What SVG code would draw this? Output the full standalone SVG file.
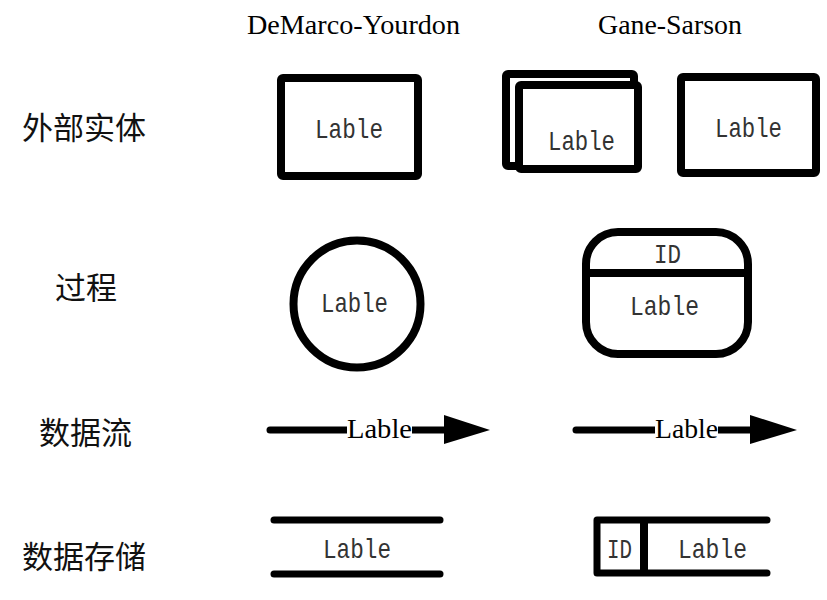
<svg xmlns="http://www.w3.org/2000/svg" width="827" height="600" viewBox="0 0 827 600">
<style>
.title{font-family:"Liberation Serif","Times New Roman",serif;font-size:27px;fill:#000}
.cn{font-family:"Noto Sans CJK SC","Noto Sans CJK JP",sans-serif;font-size:31px;fill:#111}
.mono{font-family:"Liberation Mono","Courier New",monospace;font-size:28px;fill:#333}
.flow{font-family:"Liberation Serif","Times New Roman",serif;font-size:28px;fill:#000}
.sh{fill:#fff;stroke:#000;stroke-width:8;stroke-linejoin:round}
.ln{fill:none;stroke:#000;stroke-width:7;stroke-linecap:round;stroke-linejoin:round}
</style>
<rect width="827" height="600" fill="#fff"/>
<text class="title" x="247" y="34" textLength="213" lengthAdjust="spacingAndGlyphs">DeMarco-Yourdon</text>
<text class="title" x="598" y="34" textLength="144" lengthAdjust="spacingAndGlyphs">Gane-Sarson</text>
<text class="cn" x="22" y="139">外部实体</text>
<text class="cn" x="55" y="299">过程</text>
<text class="cn" x="39" y="444">数据流</text>
<text class="cn" x="22" y="568">数据存储</text>
<g id="dy-entity">
<rect class="sh" x="281" y="78" width="137" height="98" rx="2"/>
<text class="mono" x="315" y="138" textLength="68" lengthAdjust="spacingAndGlyphs">Lable</text>
</g>
<g id="gs-entity-dup">
<rect class="sh" x="506" y="74" width="128" height="92" rx="2"/>
<rect class="sh" x="519" y="85" width="119" height="84" rx="2"/>
<text class="mono" x="548" y="150" textLength="67" lengthAdjust="spacingAndGlyphs">Lable</text>
</g>
<g id="gs-entity">
<rect class="sh" x="681" y="77" width="135" height="96" rx="2"/>
<text class="mono" x="715" y="137" textLength="67" lengthAdjust="spacingAndGlyphs">Lable</text>
</g>
<g id="dy-process">
<circle class="sh" cx="357" cy="304" r="63.5" stroke-width="7"/>
<text class="mono" x="321" y="312" textLength="67" lengthAdjust="spacingAndGlyphs">Lable</text>
</g>
<g id="gs-process">
<rect class="sh" x="586" y="232" width="162" height="122" rx="32"/>
<line x1="586" y1="273" x2="748" y2="273" stroke="#000" stroke-width="8"/>
<text class="mono" x="654" y="263" textLength="27" lengthAdjust="spacingAndGlyphs">ID</text>
<text class="mono" x="630" y="315" textLength="69" lengthAdjust="spacingAndGlyphs">Lable</text>
</g>
<g id="connectors">
<g id="dy-flow">
<line class="ln" x1="270" y1="430" x2="446" y2="430"/>
<rect x="347" y="415" width="65" height="28" fill="#fff"/>
<polygon points="444,415 490,430 444,444" fill="#000"/>
<text class="flow" x="347" y="438" textLength="65" lengthAdjust="spacingAndGlyphs">Lable</text>
</g>
<g id="gs-flow">
<line class="ln" x1="576" y1="430" x2="752" y2="430"/>
<rect x="655" y="415" width="63" height="28" fill="#fff"/>
<polygon points="750,415 797,430 750,444" fill="#000"/>
<text class="flow" x="655" y="438" textLength="63" lengthAdjust="spacingAndGlyphs">Lable</text>
</g>
</g>
<g id="dy-store">
<line class="ln" x1="274" y1="520" x2="440" y2="520"/>
<line class="ln" x1="274" y1="574" x2="440" y2="574"/>
<text class="mono" x="323" y="558" textLength="68" lengthAdjust="spacingAndGlyphs">Lable</text>
</g>
<g id="gs-store">
<path class="ln" d="M767,520 H597 V573 H767" stroke-width="8"/>
<line x1="644" y1="520" x2="644" y2="573" stroke="#000" stroke-width="8"/>
<text class="mono" x="607" y="558" textLength="25" lengthAdjust="spacingAndGlyphs">ID</text>
<text class="mono" x="678" y="558" textLength="69" lengthAdjust="spacingAndGlyphs">Lable</text>
</g>
</svg>
